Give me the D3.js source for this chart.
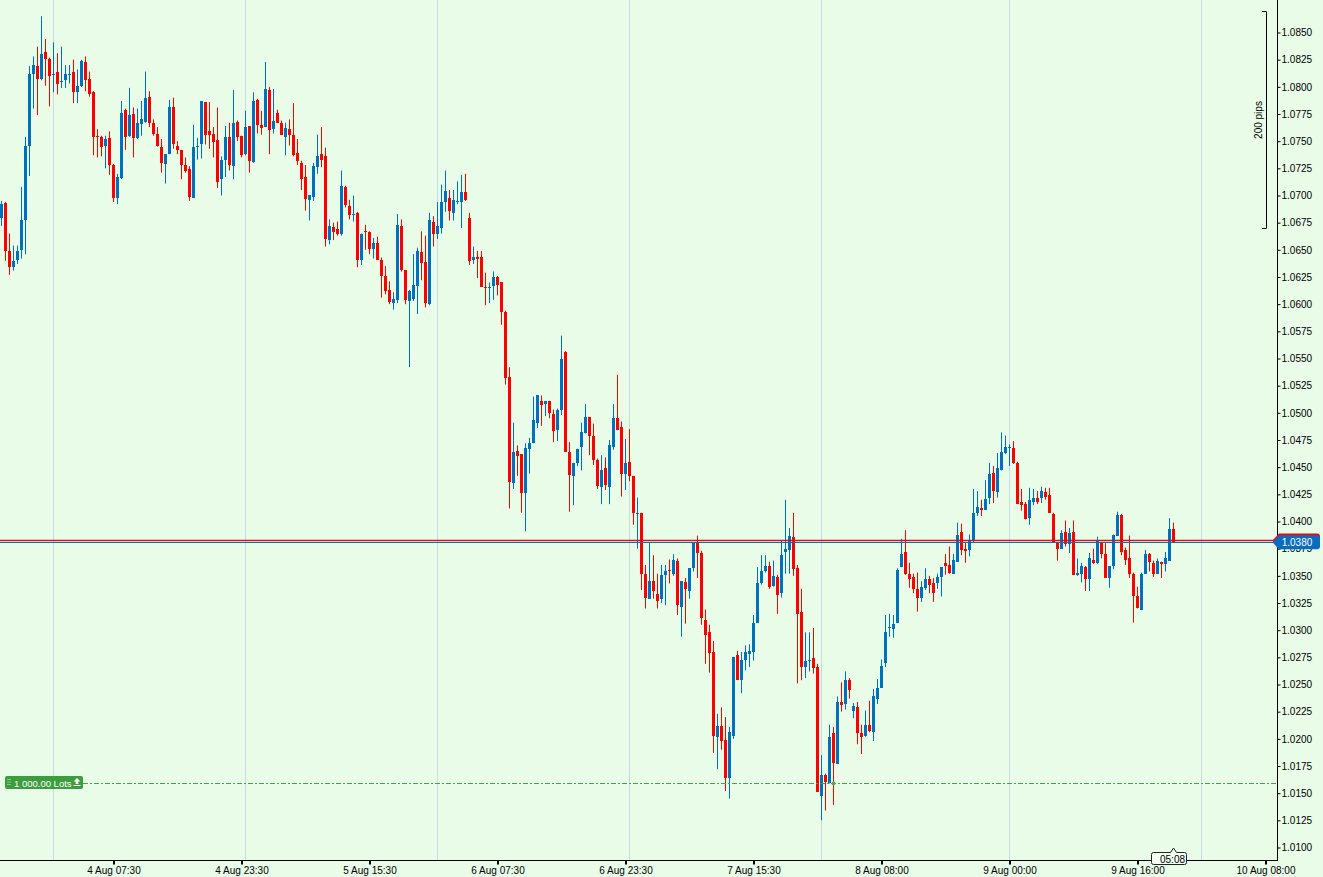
<!DOCTYPE html>
<html>
<head>
<meta charset="utf-8">
<script src="https://cdn.jsdelivr.net/npm/d3@7"></script>
<style>
  html, body { margin: 0; padding: 0; background: #e8fce8; }
  svg { display: block; }
</style>
</head>
<body>
<svg id="chart" width="1323" height="877"></svg>
<script>
// 30 minute EURUSD-style candles, oldest first
const opens = [
  1.0679, 1.0693, 1.0649, 1.0634, 1.0641, 1.0650, 1.0677, 1.0746, 1.0812, 1.0819,
  1.0807, 1.0832, 1.0826, 1.0811, 1.0814, 1.0804, 1.0806, 1.0811, 1.0814, 1.0795,
  1.0801, 1.0823, 1.0807, 1.0795, 1.0755, 1.0754, 1.0746, 1.0753, 1.0728, 1.0698,
  1.0716, 1.0779, 1.0755, 1.0775, 1.0753, 1.0766, 1.0768, 1.0791, 1.0767, 1.0757,
  1.0745, 1.0729, 1.0738, 1.0781, 1.0746, 1.0742, 1.0728, 1.0724, 1.0698, 1.0745,
  1.0747, 1.0786, 1.0759, 1.0757, 1.0751, 1.0715, 1.0733, 1.0754, 1.0727, 1.0768,
  1.0755, 1.0738, 1.0764, 1.0731, 1.0788, 1.0765, 1.0763, 1.0797, 1.0761, 1.0776,
  1.0767, 1.0754, 1.0761, 1.0756, 1.0739, 1.0730, 1.0717, 1.0696, 1.0699, 1.0726,
  1.0738, 1.0736, 1.0659, 1.0671, 1.0669, 1.0665, 1.0708, 1.0690, 1.0682, 1.0684,
  1.0641, 1.0667, 1.0666, 1.0651, 1.0656, 1.0641, 1.0626, 1.0613, 1.0601, 1.0604,
  1.0672, 1.0631, 1.0603, 1.0605, 1.0617, 1.0648, 1.0639, 1.0600, 1.0676, 1.0665,
  1.0670, 1.0694, 1.0698, 1.0684, 1.0694, 1.0694, 1.0703, 1.0679, 1.0641, 1.0643,
  1.0643, 1.0616, 1.0615, 1.0617, 1.0625, 1.0620, 1.0593, 1.0533, 1.0435, 1.0465,
  1.0462, 1.0426, 1.0467, 1.0472, 1.0491, 1.0511, 1.0508, 1.0511, 1.0499, 1.0484,
  1.0503, 1.0556, 1.0464, 1.0442, 1.0454, 1.0469, 1.0481, 1.0496, 1.0479, 1.0457,
  1.0432, 1.0449, 1.0432, 1.0469, 1.0495, 1.0487, 1.0444, 1.0455, 1.0442, 1.0407,
  1.0408, 1.0352, 1.0329, 1.0345, 1.0333, 1.0329, 1.0351, 1.0355, 1.0352, 1.0364,
  1.0321, 1.0344, 1.0336, 1.0357, 1.0380, 1.0371, 1.0309, 1.0298, 1.0280, 1.0202,
  1.0212, 1.0199, 1.0164, 1.0203, 1.0277, 1.0254, 1.0273, 1.0278, 1.0280, 1.0307,
  1.0343, 1.0354, 1.0359, 1.0341, 1.0349, 1.0334, 1.0372, 1.0374, 1.0386, 1.0357,
  1.0317, 1.0266, 1.0272, 1.0274, 1.0266, 1.0147, 1.0167, 1.0159, 1.0205, 1.0177,
  1.0234, 1.0232, 1.0254, 1.0226, 1.0229, 1.0205, 1.0203, 1.0213, 1.0206, 1.0237,
  1.0247, 1.0270, 1.0302, 1.0301, 1.0307, 1.0358, 1.0372, 1.0352, 1.0349, 1.0338,
  1.0330, 1.0339, 1.0347, 1.0343, 1.0343, 1.0349, 1.0362, 1.0360, 1.0352, 1.0363,
  1.0390, 1.0375, 1.0374, 1.0382, 1.0408, 1.0412, 1.0411, 1.0422, 1.0445, 1.0427,
  1.0447, 1.0463, 1.0468, 1.0468, 1.0454, 1.0418, 1.0416, 1.0403, 1.0418, 1.0422,
  1.0422, 1.0427, 1.0424, 1.0407, 1.0380, 1.0375, 1.0390, 1.0379, 1.0390, 1.0351,
  1.0352, 1.0358, 1.0347, 1.0365, 1.0362, 1.0380, 1.0370, 1.0348, 1.0359, 1.0387,
  1.0406, 1.0374, 1.0366, 1.0352, 1.0331, 1.0319, 1.0352, 1.0370, 1.0362, 1.0352,
  1.0363, 1.0361, 1.0364, 1.0393
];
const highs = [
  1.0695, 1.0694, 1.0665, 1.0654, 1.0654, 1.0708, 1.0754, 1.0819, 1.0828, 1.0837,
  1.0865, 1.0844, 1.0827, 1.0841, 1.0831, 1.0837, 1.0820, 1.0820, 1.0825, 1.0816,
  1.0825, 1.0828, 1.0814, 1.0796, 1.0761, 1.0755, 1.0755, 1.0759, 1.0729, 1.0720,
  1.0787, 1.0780, 1.0799, 1.0781, 1.0780, 1.0787, 1.0814, 1.0796, 1.0770, 1.0763,
  1.0752, 1.0738, 1.0788, 1.0790, 1.0750, 1.0742, 1.0735, 1.0727, 1.0765, 1.0753,
  1.0787, 1.0786, 1.0786, 1.0763, 1.0781, 1.0736, 1.0764, 1.0767, 1.0797, 1.0769,
  1.0755, 1.0778, 1.0764, 1.0795, 1.0789, 1.0778, 1.0823, 1.0800, 1.0798, 1.0779,
  1.0769, 1.0767, 1.0770, 1.0785, 1.0752, 1.0732, 1.0728, 1.0700, 1.0730, 1.0756,
  1.0763, 1.0744, 1.0678, 1.0675, 1.0676, 1.0723, 1.0709, 1.0696, 1.0700, 1.0685,
  1.0665, 1.0673, 1.0667, 1.0661, 1.0662, 1.0643, 1.0635, 1.0621, 1.0611, 1.0683,
  1.0678, 1.0631, 1.0613, 1.0646, 1.0652, 1.0667, 1.0663, 1.0684, 1.0681, 1.0694,
  1.0710, 1.0723, 1.0705, 1.0705, 1.0713, 1.0719, 1.0720, 1.0684, 1.0653, 1.0649,
  1.0649, 1.0629, 1.0620, 1.0630, 1.0626, 1.0620, 1.0594, 1.0542, 1.0491, 1.0470,
  1.0462, 1.0472, 1.0477, 1.0515, 1.0516, 1.0516, 1.0511, 1.0511, 1.0503, 1.0504,
  1.0571, 1.0557, 1.0473, 1.0454, 1.0467, 1.0491, 1.0508, 1.0496, 1.0490, 1.0458,
  1.0461, 1.0459, 1.0475, 1.0508, 1.0535, 1.0492, 1.0476, 1.0485, 1.0442, 1.0422,
  1.0408, 1.0360, 1.0380, 1.0369, 1.0352, 1.0360, 1.0360, 1.0365, 1.0370, 1.0366,
  1.0345, 1.0348, 1.0357, 1.0381, 1.0387, 1.0373, 1.0319, 1.0305, 1.0290, 1.0223,
  1.0229, 1.0220, 1.0211, 1.0275, 1.0281, 1.0280, 1.0286, 1.0287, 1.0314, 1.0358,
  1.0369, 1.0369, 1.0363, 1.0364, 1.0351, 1.0383, 1.0420, 1.0394, 1.0408, 1.0360,
  1.0338, 1.0298, 1.0298, 1.0302, 1.0269, 1.0185, 1.0168, 1.0213, 1.0211, 1.0239,
  1.0252, 1.0262, 1.0256, 1.0233, 1.0234, 1.0213, 1.0226, 1.0235, 1.0246, 1.0255,
  1.0273, 1.0314, 1.0315, 1.0314, 1.0357, 1.0384, 1.0392, 1.0362, 1.0352, 1.0353,
  1.0345, 1.0357, 1.0350, 1.0348, 1.0352, 1.0358, 1.0370, 1.0377, 1.0370, 1.0399,
  1.0398, 1.0381, 1.0388, 1.0430, 1.0428, 1.0420, 1.0438, 1.0454, 1.0451, 1.0463,
  1.0482, 1.0479, 1.0471, 1.0474, 1.0455, 1.0430, 1.0418, 1.0431, 1.0430, 1.0428,
  1.0432, 1.0431, 1.0431, 1.0408, 1.0380, 1.0392, 1.0401, 1.0394, 1.0401, 1.0366,
  1.0362, 1.0359, 1.0371, 1.0375, 1.0386, 1.0381, 1.0380, 1.0359, 1.0388, 1.0409,
  1.0407, 1.0376, 1.0387, 1.0353, 1.0340, 1.0353, 1.0374, 1.0371, 1.0364, 1.0366,
  1.0363, 1.0372, 1.0403, 1.0399
];
const lows = [
  1.0672, 1.0640, 1.0627, 1.0631, 1.0637, 1.0642, 1.0646, 1.0718, 1.0780, 1.0774,
  1.0806, 1.0801, 1.0782, 1.0795, 1.0793, 1.0799, 1.0799, 1.0803, 1.0785, 1.0785,
  1.0800, 1.0796, 1.0791, 1.0737, 1.0735, 1.0736, 1.0725, 1.0719, 1.0694, 1.0692,
  1.0715, 1.0742, 1.0754, 1.0735, 1.0752, 1.0755, 1.0767, 1.0763, 1.0755, 1.0745,
  1.0721, 1.0711, 1.0738, 1.0743, 1.0738, 1.0715, 1.0721, 1.0695, 1.0698, 1.0733,
  1.0734, 1.0747, 1.0743, 1.0735, 1.0707, 1.0700, 1.0717, 1.0723, 1.0715, 1.0750,
  1.0735, 1.0737, 1.0721, 1.0730, 1.0757, 1.0756, 1.0763, 1.0738, 1.0757, 1.0767,
  1.0756, 1.0737, 1.0746, 1.0736, 1.0728, 1.0705, 1.0686, 1.0677, 1.0695, 1.0720,
  1.0726, 1.0653, 1.0655, 1.0659, 1.0663, 1.0663, 1.0689, 1.0678, 1.0676, 1.0634,
  1.0636, 1.0650, 1.0646, 1.0642, 1.0641, 1.0606, 1.0609, 1.0600, 1.0595, 1.0601,
  1.0630, 1.0600, 1.0542, 1.0603, 1.0591, 1.0622, 1.0597, 1.0599, 1.0653, 1.0660,
  1.0665, 1.0685, 1.0677, 1.0677, 1.0692, 1.0670, 1.0695, 1.0636, 1.0637, 1.0624,
  1.0616, 1.0599, 1.0601, 1.0604, 1.0608, 1.0581, 1.0526, 1.0412, 1.0430, 1.0442,
  1.0408, 1.0391, 1.0444, 1.0472, 1.0486, 1.0488, 1.0497, 1.0495, 1.0473, 1.0474,
  1.0498, 1.0464, 1.0409, 1.0415, 1.0451, 1.0447, 1.0481, 1.0461, 1.0452, 1.0430,
  1.0416, 1.0429, 1.0416, 1.0466, 1.0484, 1.0423, 1.0429, 1.0437, 1.0397, 1.0375,
  1.0337, 1.0320, 1.0329, 1.0329, 1.0320, 1.0325, 1.0323, 1.0343, 1.0350, 1.0314,
  1.0294, 1.0306, 1.0329, 1.0354, 1.0348, 1.0305, 1.0269, 1.0261, 1.0187, 1.0172,
  1.0190, 1.0152, 1.0145, 1.0200, 1.0254, 1.0242, 1.0263, 1.0266, 1.0272, 1.0307,
  1.0342, 1.0353, 1.0338, 1.0340, 1.0315, 1.0330, 1.0352, 1.0352, 1.0350, 1.0251,
  1.0254, 1.0256, 1.0262, 1.0260, 1.0151, 1.0125, 1.0134, 1.0159, 1.0139, 1.0177,
  1.0225, 1.0227, 1.0237, 1.0219, 1.0195, 1.0186, 1.0202, 1.0206, 1.0198, 1.0232,
  1.0247, 1.0266, 1.0294, 1.0293, 1.0307, 1.0358, 1.0351, 1.0339, 1.0334, 1.0317,
  1.0326, 1.0337, 1.0334, 1.0326, 1.0338, 1.0331, 1.0351, 1.0352, 1.0352, 1.0363,
  1.0369, 1.0362, 1.0368, 1.0381, 1.0405, 1.0405, 1.0411, 1.0416, 1.0417, 1.0422,
  1.0447, 1.0462, 1.0451, 1.0453, 1.0416, 1.0410, 1.0402, 1.0397, 1.0415, 1.0416,
  1.0417, 1.0420, 1.0408, 1.0381, 1.0364, 1.0375, 1.0377, 1.0371, 1.0351, 1.0350,
  1.0344, 1.0336, 1.0336, 1.0361, 1.0361, 1.0366, 1.0348, 1.0339, 1.0356, 1.0387,
  1.0369, 1.0360, 1.0348, 1.0307, 1.0320, 1.0319, 1.0352, 1.0354, 1.0349, 1.0352,
  1.0348, 1.0354, 1.0364, 1.0381
];
const closes = [
  1.0692, 1.0649, 1.0634, 1.0640, 1.0649, 1.0677, 1.0746, 1.0812, 1.0820, 1.0807,
  1.0830, 1.0826, 1.0810, 1.0812, 1.0803, 1.0805, 1.0812, 1.0812, 1.0795, 1.0801,
  1.0824, 1.0806, 1.0793, 1.0754, 1.0754, 1.0745, 1.0752, 1.0728, 1.0698, 1.0717,
  1.0776, 1.0754, 1.0774, 1.0753, 1.0767, 1.0770, 1.0790, 1.0767, 1.0757, 1.0746,
  1.0730, 1.0738, 1.0781, 1.0747, 1.0742, 1.0728, 1.0723, 1.0699, 1.0745, 1.0746,
  1.0787, 1.0756, 1.0756, 1.0749, 1.0712, 1.0733, 1.0754, 1.0728, 1.0767, 1.0754,
  1.0737, 1.0763, 1.0732, 1.0787, 1.0765, 1.0762, 1.0798, 1.0760, 1.0769, 1.0767,
  1.0756, 1.0762, 1.0756, 1.0737, 1.0732, 1.0715, 1.0697, 1.0700, 1.0727, 1.0736,
  1.0733, 1.0660, 1.0672, 1.0666, 1.0665, 1.0709, 1.0691, 1.0682, 1.0683, 1.0641,
  1.0665, 1.0666, 1.0651, 1.0656, 1.0641, 1.0626, 1.0612, 1.0602, 1.0605, 1.0673,
  1.0631, 1.0604, 1.0612, 1.0618, 1.0649, 1.0638, 1.0601, 1.0677, 1.0665, 1.0672,
  1.0694, 1.0704, 1.0686, 1.0696, 1.0695, 1.0703, 1.0696, 1.0640, 1.0643, 1.0642,
  1.0616, 1.0615, 1.0616, 1.0625, 1.0618, 1.0593, 1.0532, 1.0436, 1.0464, 1.0460,
  1.0426, 1.0468, 1.0472, 1.0493, 1.0516, 1.0507, 1.0511, 1.0500, 1.0483, 1.0503,
  1.0550, 1.0464, 1.0443, 1.0454, 1.0467, 1.0482, 1.0496, 1.0479, 1.0457, 1.0433,
  1.0447, 1.0434, 1.0470, 1.0495, 1.0484, 1.0444, 1.0454, 1.0442, 1.0408, 1.0408,
  1.0352, 1.0330, 1.0345, 1.0336, 1.0327, 1.0351, 1.0354, 1.0354, 1.0365, 1.0323,
  1.0345, 1.0338, 1.0357, 1.0381, 1.0371, 1.0311, 1.0296, 1.0279, 1.0203, 1.0212,
  1.0198, 1.0164, 1.0206, 1.0275, 1.0254, 1.0273, 1.0280, 1.0281, 1.0307, 1.0343,
  1.0354, 1.0359, 1.0340, 1.0350, 1.0332, 1.0369, 1.0375, 1.0387, 1.0356, 1.0315,
  1.0266, 1.0272, 1.0273, 1.0265, 1.0151, 1.0167, 1.0160, 1.0202, 1.0178, 1.0234,
  1.0231, 1.0254, 1.0245, 1.0230, 1.0205, 1.0202, 1.0213, 1.0207, 1.0239, 1.0247,
  1.0267, 1.0298, 1.0303, 1.0306, 1.0355, 1.0370, 1.0352, 1.0347, 1.0338, 1.0330,
  1.0340, 1.0347, 1.0342, 1.0334, 1.0349, 1.0358, 1.0359, 1.0353, 1.0365, 1.0388,
  1.0374, 1.0373, 1.0382, 1.0408, 1.0413, 1.0411, 1.0421, 1.0444, 1.0428, 1.0449,
  1.0464, 1.0469, 1.0469, 1.0454, 1.0416, 1.0415, 1.0402, 1.0420, 1.0422, 1.0418,
  1.0428, 1.0423, 1.0408, 1.0381, 1.0375, 1.0389, 1.0379, 1.0389, 1.0351, 1.0353,
  1.0359, 1.0347, 1.0366, 1.0362, 1.0382, 1.0370, 1.0348, 1.0359, 1.0388, 1.0406,
  1.0372, 1.0365, 1.0352, 1.0331, 1.0320, 1.0352, 1.0370, 1.0363, 1.0352, 1.0364,
  1.0361, 1.0366, 1.0393, 1.0381
];

// time axis: candle index of each label, and day separators
const timeTickIdx = [28, 60, 92, 124, 156, 188, 220, 252, 284, 316];
const timeTickLabels = ['4 Aug 07:30', '4 Aug 23:30', '5 Aug 15:30', '6 Aug 07:30', '6 Aug 23:30',
                        '7 Aug 15:30', '8 Aug 08:00', '9 Aug 00:00', '9 Aug 16:00', '10 Aug 08:00'];
const dayGridIdx = [13, 61, 109, 157, 205, 252, 300];

const priceMin = 1.0100, priceMax = 1.0850, priceStep = 0.0025;

const bidPrice = 1.03808;
const askPrice = 1.03826;
const orderPrice = 1.0159;
const orderIdx = 208;
const orderText = '1 000.00 Lots';
const pipsRange = [1.0870, 1.0670];
const pipsText = '200 pips';
const timerText = '05:08';

const W = 1323, H = 877;
const plotRight = 1277, plotBottom = 860;
const bg = '#e8fce8', upColor = '#0070c0', downColor = '#ff0000', orderColor = '#3d9c3d';
const fontFam = "'Liberation Sans', Arial, sans-serif";

const candles = opens.map((o, i) => ({i, o, h: highs[i], l: lows[i], c: closes[i]}));

const x = d3.scaleLinear().domain([0, 1]).range([1.5, 5.5]);
const y = d3.scaleLinear().domain([priceMin, priceMax]).range([847.5, 32.5]);

const svg = d3.select('#chart');
svg.append('rect').attr('width', W).attr('height', H).attr('fill', bg);

svg.append('defs').append('clipPath').attr('id', 'plot')
  .append('rect').attr('x', 0).attr('y', 0).attr('width', plotRight).attr('height', plotBottom);

const plot = svg.append('g').attr('clip-path', 'url(#plot)');

// day separators
plot.selectAll('line.grid')
  .data(dayGridIdx)
  .enter()
  .append('line')
  .attr('class', 'grid')
  .attr('x1', d => x(d)).attr('x2', d => x(d))
  .attr('y1', 0).attr('y2', plotBottom)
  .attr('stroke', '#c9dce6').attr('stroke-width', 1);

// candles
const cg = plot.selectAll('g.candle')
  .data(candles)
  .enter()
  .append('g')
  .attr('class', 'candle');

cg.append('line')
  .attr('x1', d => x(d.i)).attr('x2', d => x(d.i))
  .attr('y1', d => y(Math.max(d.h, d.o, d.c)))
  .attr('y2', d => y(Math.min(d.l, d.o, d.c)))
  .attr('stroke', d => d.c >= d.o ? upColor : downColor)
  .attr('stroke-width', 1);

cg.append('rect')
  .attr('x', d => x(d.i) - 1.5)
  .attr('width', 3)
  .attr('y', d => Math.round(y(Math.max(d.o, d.c))))
  .attr('height', d => Math.max(1, Math.round(y(Math.min(d.o, d.c))) - Math.round(y(Math.max(d.o, d.c)))))
  .attr('fill', d => d.c >= d.o ? upColor : downColor);

// pending order line
plot.append('line')
  .attr('x1', 83).attr('x2', plotRight)
  .attr('y1', Math.round(y(orderPrice)) + 0.5).attr('y2', Math.round(y(orderPrice)) + 0.5)
  .attr('stroke', '#4a9f4a').attr('stroke-width', 1)
  .attr('stroke-dasharray', '5,2,2,2');

plot.append('circle')
  .attr('cx', x(orderIdx)).attr('cy', Math.round(y(orderPrice)) + 0.5)
  .attr('r', 2).attr('fill', '#4caf50');

// ask / bid lines
plot.append('line')
  .attr('x1', 0).attr('x2', plotRight)
  .attr('y1', y(askPrice)).attr('y2', y(askPrice))
  .attr('stroke', '#ff0000').attr('stroke-width', 1.4);
plot.append('line')
  .attr('x1', 0).attr('x2', plotRight)
  .attr('y1', y(bidPrice)).attr('y2', y(bidPrice))
  .attr('stroke', '#0a6cc0').attr('stroke-width', 1.4);

// order label
const og = svg.append('g');
const oy = Math.round(y(orderPrice));
og.append('rect')
  .attr('x', 5).attr('y', oy - 7).attr('width', 78).attr('height', 13).attr('rx', 2)
  .attr('fill', orderColor);
[0, 1].forEach(cx => [0, 1, 2].forEach(ry => {
  og.append('rect')
    .attr('x', 7.5 + cx * 2).attr('y', oy - 4 + ry * 2.5).attr('width', 1).attr('height', 1)
    .attr('fill', '#d8f0d8');
}));
og.append('text')
  .attr('x', 14).attr('y', oy + 3.5)
  .attr('font-family', fontFam).attr('font-size', 9.5)
  .attr('fill', '#ffffff')
  .text(orderText);
og.append('path')
  .attr('d', `M77,${oy - 5} L80.5,${oy - 1.5} L78.3,${oy - 1.5} L78.3,${oy + 1} L75.7,${oy + 1} L75.7,${oy - 1.5} L73.5,${oy - 1.5} Z M73.5,${oy + 2} H80.5 V${oy + 3} H73.5 Z`)
  .attr('fill', '#ffffff');

// price axis
const priceTicks = d3.range(0, Math.round((priceMax - priceMin) / priceStep) + 1)
  .map(k => +(priceMin + k * priceStep).toFixed(4));

const yAxis = svg.append('g')
  .attr('transform', `translate(${plotRight + 0.5},0)`)
  .call(d3.axisRight(y).tickValues(priceTicks).tickSize(3).tickPadding(1)
        .tickFormat(d => d.toFixed(4)));
yAxis.select('.domain').remove();
yAxis.selectAll('text')
  .attr('font-family', fontFam).attr('font-size', 10).attr('fill', '#000');
yAxis.selectAll('line').attr('stroke', '#000');

const xAxis = svg.append('g')
  .attr('transform', `translate(0,${plotBottom + 0.5})`)
  .call(d3.axisBottom(x).tickValues(timeTickIdx).tickSize(4).tickPadding(2)
        .tickFormat((d, i) => timeTickLabels[i]));
xAxis.select('.domain').remove();
xAxis.selectAll('text')
  .attr('font-family', fontFam).attr('font-size', 10).attr('fill', '#000');
xAxis.selectAll('line').attr('stroke', '#000').attr('stroke-width', 2);

// frame lines
svg.append('line')
  .attr('x1', plotRight + 0.5).attr('x2', plotRight + 0.5)
  .attr('y1', 0).attr('y2', plotBottom + 1)
  .attr('stroke', '#000');
svg.append('line')
  .attr('x1', 0).attr('x2', plotRight + 1)
  .attr('y1', plotBottom + 0.5).attr('y2', plotBottom + 0.5)
  .attr('stroke', '#000');

// 200 pips ruler
const pTop = Math.round(y(pipsRange[0])) + 0.5, pBot = Math.round(y(pipsRange[1])) + 0.5;
svg.append('path')
  .attr('d', `M1262,${pTop} H1266.5 V${pBot} H1262`)
  .attr('fill', 'none').attr('stroke', '#000').attr('stroke-width', 1);
svg.append('text')
  .attr('transform', `translate(1258.5,${(pTop + pBot) / 2}) rotate(-90)`)
  .attr('text-anchor', 'middle').attr('dy', '0.35em')
  .attr('font-family', fontFam).attr('font-size', 10).attr('fill', '#000')
  .text(pipsText);

// price tags on the axis (ask underneath, bid on top)
function tag(price, fill) {
  const c = y(price);
  return svg.append('path')
    .attr('d', `M1272.5,${c} L1279,${c - 7} H1317 Q1320,${c - 7} 1320,${c - 4} V${c + 4} Q1320,${c + 7} 1317,${c + 7} H1279 Z`)
    .attr('fill', fill);
}
tag(askPrice, '#ff0000');
tag(bidPrice, '#0a6cc0');
svg.append('text')
  .attr('x', 1297).attr('y', y(bidPrice) + 3.5)
  .attr('text-anchor', 'middle')
  .attr('font-family', fontFam).attr('font-size', 10).attr('fill', '#ffffff')
  .text((Math.floor(bidPrice * 10000) / 10000).toFixed(4));

// candle timer
const tx = x(candles.length - 1);
svg.append('path')
  .attr('d', `M1153.5,852.5 H${tx - 3} L${tx},848 L${tx + 3},852.5 H1184.5 Q1186.5,852.5 1186.5,854.5 V862.5 Q1186.5,864.5 1184.5,864.5 H1153.5 Q1151.5,864.5 1151.5,862.5 V854.5 Q1151.5,852.5 1153.5,852.5 Z`)
  .attr('fill', '#f2fff2').attr('stroke', '#222').attr('stroke-width', 1);
svg.append('text')
  .attr('x', 1172.5).attr('y', 863)
  .attr('text-anchor', 'middle')
  .attr('font-family', fontFam).attr('font-size', 10).attr('fill', '#000')
  .text(timerText);
</script>
</body>
</html>
